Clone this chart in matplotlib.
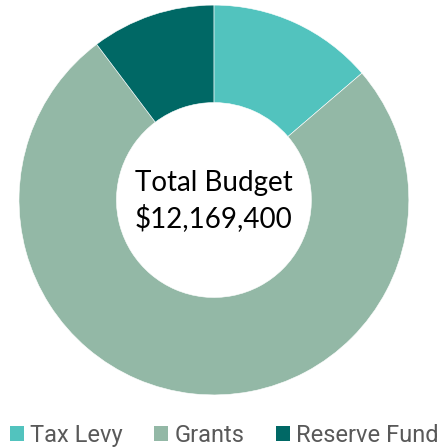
import matplotlib.pyplot as plt
from matplotlib.patches import Patch

# budget sources
labels = ["Tax Levy", "Grants", "Reserve Fund"]
values = [1670000, 9249400, 1250000]
colors = ["#52C3BE", "#93B8A6", "#006865"]
total = sum(values)

fig = plt.figure(figsize=(4.44, 4.48), dpi=100)
ax = fig.add_axes([0.0428, 0.1183, 0.878, 0.8705])

ax.pie(values, colors=colors, startangle=90, counterclock=False,
       radius=1.0, wedgeprops=dict(width=0.5, edgecolor="white", linewidth=0.4))
ax.set_xlim(-1, 1)
ax.set_ylim(-1, 1)
ax.set_aspect("equal")
ax.axis("off")

# center label
ax.text(0, 0.085, "Total Budget", ha="center", va="center",
        fontsize=20, family="Lato", color="black")
ax.text(0, -0.095, f"${total:,}", ha="center", va="center",
        fontsize=20, family="Lato", color="black")

handles = [Patch(facecolor=c, edgecolor="none") for c in colors]
fig.legend(handles, labels, loc="lower center", bbox_to_anchor=(0.505, -0.045),
           ncol=3, frameon=False, labelcolor="#595959",
           handlelength=0.6, handleheight=0.6, handletextpad=0.25,
           columnspacing=1.35, prop={"family": "Roboto", "size": 17})

fig.savefig("out.png", dpi=100)
